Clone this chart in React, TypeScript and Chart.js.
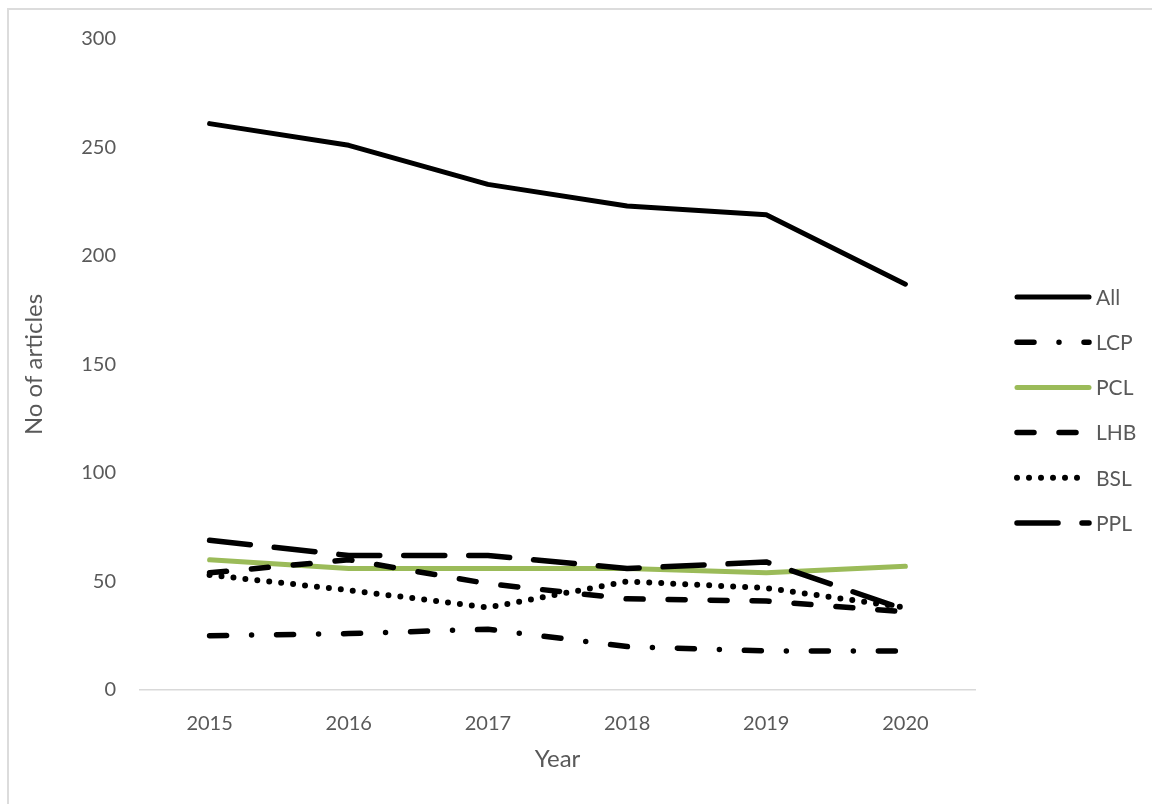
import { useEffect, useRef } from "react";
import { Chart, registerables } from "chart.js";

Chart.register(...registerables);

// Publication counts per year, by category
const years = ["2015", "2016", "2017", "2018", "2019", "2020"];
const allArticles = [261, 251, 233, 223, 219, 187];
const lcp = [25, 26, 28, 20, 18, 18];
const pcl = [60, 56, 56, 56, 54, 57];
const lhb = [54, 60, 49, 42, 41, 36];
const bsl = [53, 46, 38, 50, 47, 38];
const ppl = [69, 62, 62, 56, 59, 37];

const seriesNames = ["All", "LCP", "PCL", "LHB", "BSL", "PPL"];
const seriesValues = [allArticles, lcp, pcl, lhb, bsl, ppl];

const yMin = 0;
const yMax = 300;
const yStep = 50;

const FONT = "Lato, 'Open Sans', sans-serif";
const TEXT = "#595959";

const styles: { color: string; width: number; dash: number[] }[] = [
  { color: "#000000", width: 5, dash: [] },
  { color: "#000000", width: 5.5, dash: [17, 25, 0, 25] },
  { color: "#9BBB59", width: 5, dash: [] },
  { color: "#000000", width: 5.5, dash: [17, 25] },
  { color: "#000000", width: 6, dash: [0, 12] },
  { color: "#000000", width: 5.5, dash: [41, 24] },
];

// Legend at the right: short line samples with labels
const sideLegend = {
  id: "sideLegend",
  afterDraw(chart: Chart) {
    const ctx = chart.ctx;
    const x0 = 1017;
    const x1 = 1089;
    const top = 297;
    const gap = 45.2;
    ctx.save();
    chart.data.datasets.forEach((ds: any, i: number) => {
      const y = top + i * gap;
      ctx.beginPath();
      ctx.setLineDash(ds.borderDash || []);
      ctx.lineCap = "round";
      ctx.lineWidth = ds.borderWidth;
      ctx.strokeStyle = ds.borderColor;
      ctx.moveTo(x0, y);
      ctx.lineTo(x1, y);
      ctx.stroke();
      ctx.setLineDash([]);
      ctx.fillStyle = TEXT;
      ctx.font = `21px ${FONT}`;
      ctx.textBaseline = "middle";
      ctx.textAlign = "left";
      ctx.fillText(ds.label, 1096, y + 1);
    });
    ctx.restore();
  },
};

export default function App() {
  const canvasRef = useRef<HTMLCanvasElement | null>(null);

  useEffect(() => {
    if (!canvasRef.current) return;
    const chart = new Chart(canvasRef.current, {
      type: "line",
      data: {
        labels: years,
        datasets: seriesNames.map((name, i) => ({
          label: name,
          data: seriesValues[i],
          borderColor: styles[i].color,
          backgroundColor: styles[i].color,
          borderWidth: styles[i].width,
          borderDash: styles[i].dash,
          borderCapStyle: "round" as const,
          borderJoinStyle: "round" as const,
          pointRadius: 0,
          tension: 0,
          fill: false,
          order: seriesNames.length - i,
        })),
      },
      options: {
        responsive: false,
        animation: false,
        layout: { padding: { top: 39, right: 177, left: 0, bottom: 0 } },
        plugins: {
          legend: { display: false },
          tooltip: { enabled: false },
        },
        scales: {
          x: {
            offset: true,
            grid: { display: false, drawTicks: false },
            border: { display: true, color: "#d9d9d9", width: 1.5 },
            ticks: {
              color: TEXT,
              font: { family: FONT, size: 20 },
              padding: 22,
              maxRotation: 0,
            },
            title: {
              display: true,
              text: "Year",
              color: TEXT,
              font: { family: FONT, size: 24 },
              padding: { top: 0, bottom: 30 },
            },
            afterFit: (scale: any) => {
              scale.height = 114;
            },
          },
          y: {
            min: yMin,
            max: yMax,
            grid: { display: false, drawTicks: false },
            border: { display: false },
            ticks: {
              stepSize: yStep,
              color: TEXT,
              font: { family: FONT, size: 20 },
              padding: 24,
            },
            title: {
              display: true,
              text: "No of articles",
              color: TEXT,
              font: { family: FONT, size: 24 },
              padding: { top: 20, bottom: 0 },
            },
            afterFit: (scale: any) => {
              scale.width = 140;
            },
          },
        },
      },
      plugins: [sideLegend],
    });
    return () => chart.destroy();
  }, []);

  return (
    <div
      style={{
        position: "fixed",
        left: 0,
        top: 0,
        width: 1152,
        height: 804,
        overflow: "hidden",
        background: "#ffffff",
      }}
    >
      <canvas
        ref={canvasRef}
        width={1152}
        height={804}
        style={{ position: "absolute", left: 0, top: 0 }}
      />
      <div
        style={{
          position: "absolute",
          left: 7,
          top: 8,
          width: 1200,
          height: 850,
          border: "2px solid #dcdcdc",
          pointerEvents: "none",
        }}
      />
    </div>
  );
}
